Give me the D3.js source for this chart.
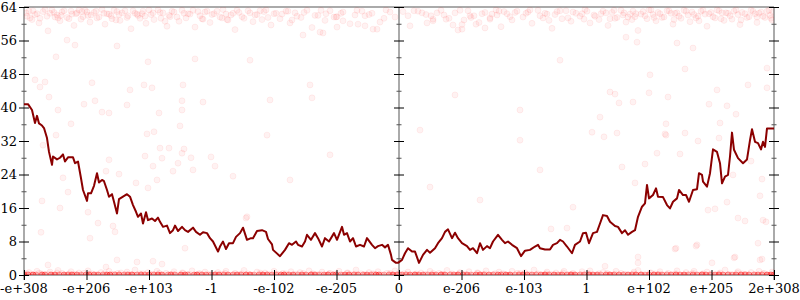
<!DOCTYPE html>
<html><head><meta charset="utf-8">
<script src="https://cdn.jsdelivr.net/npm/d3@7"></script>
<style>
html,body{margin:0;padding:0;background:#fff;}
svg{display:block;}
text{font-family:"DejaVu Serif",serif;font-size:13px;fill:#000;}
</style></head>
<body><svg id="c" width="800" height="300"></svg>
<script>
// ---- data ----
// x positions are along the 12-interval axis (0..750, 62.5 per labelled tick)
const xTickLabels = ["-e+308","-e+206","-e+103","-1","-e-102","-e-205","0","e-206","e-103","1","e+102","e+205","2e+308"];
const yTickValues = [0,8,16,24,32,40,48,56,64];
const yMinorValues = [4,12,20,28,36,44,52,60];

const lineX = [0,4,8,11,13,15,18,20,23,25,28,29,33,36,39,41,44,49,51,54,57,59,63,64,67,70,73,75,78,80,83,85,88,90,93,95,99,103,106,109,112,114,117,119,122,124,128,131,134,136,139,143,146,149,151,154,158,161,164,169,172,176,179,183,186,189,194,196,199,202,205,209,212,216,219,223,227,229,233,238,242,244,248,
249,256,261,265,268,272,274,278,281,283,287,291,294,298,301,305,310,313,318,320,323,326,329,332,336,340,343,348,351,354,358,361,364,367,368,372,374,378,381,384,388,391,395,399,403,406,411,414,418,421,424,428,431,434,438,443,446,449,453,456,459,463,466,469,474,478,481,484,488,493,497,501,506,511,514,
516,521,526,529,533,536,539,543,548,551,556,559,562,565,569,573,576,579,583,586,591,594,598,601,604,608,611,614,618,621,623,625,629,632,634,639,643,646,649,653,655,659,662,665,669,673,675,678,679,683,686,689,693,696,698,701,704,706,708,710,714,719,723,726,728,731,734,737,739,741,743,750];
const lineY = [40.8,40.8,39.4,36.3,38.0,36.2,35.7,35.1,32.7,29.4,26.3,28.3,27.6,28.0,28.8,27.1,28.1,28.1,26.7,27.1,23.1,20.3,17.7,19.5,19.5,21.3,24.3,22.1,22.7,22.4,20.3,18.7,19.3,17.5,14.7,18.1,18.7,19.3,18.7,16.7,15.1,13.9,14.7,12.3,15.0,13.1,13.5,12.9,13.7,12.7,11.5,11.8,10.0,10.7,11.8,10.5,11.5,10.7,10.3,11.3,10.3,9.6,10.2,10.0,8.8,8.0,5.6,6.8,8.0,6.2,7.6,7.6,9.1,10.0,11.3,8.4,8.8,8.8,10.5,10.7,10.3,8.6,7.3,
6.0,4.5,6.0,7.6,7.2,8.0,7.2,6.8,8.0,9.6,8.4,10.0,8.8,6.8,8.8,8.0,10.0,8.4,11.5,9.6,10.0,8.0,8.8,6.8,7.2,6.8,8.8,7.2,6.4,6.9,7.2,6.6,7.2,4.8,3.6,2.9,2.9,3.6,5.2,6.4,5.6,5.6,2.9,4.8,6.0,5.3,6.4,7.6,8.8,10.3,10.9,8.8,10.1,8.8,7.6,6.9,6.0,6.4,5.2,7.6,6.0,6.9,6.4,8.0,9.6,8.4,7.6,8.0,7.2,6.4,4.5,5.8,6.0,6.8,7.2,
6.4,6.1,6.1,7.2,7.6,8.4,8.0,6.8,5.2,7.2,8.0,10.0,10.1,7.6,10.0,10.3,12.3,14.3,14.1,12.7,11.7,11.5,10.0,10.7,9.6,10.3,10.7,13.9,16.3,17.1,21.5,18.3,19.1,20.7,18.7,18.6,16.7,15.9,17.5,18.3,20.3,19.1,19.1,17.5,20.3,20.5,24.3,23.9,22.3,21.1,24.3,30.0,29.4,26.7,21.9,23.5,23.9,28.3,34.0,29.9,27.9,26.7,27.6,32.2,34.8,31.8,31.5,30.0,31.8,30.6,35.0,35.0];

const topBand = [[2,62.6],[6,61.4],[9,63.1],[15,60.2],[19,62.9],[23,61.8],[24,58.3],[28,63.3],[33,62.1],[36,60.7],[38,62.8],[43,61.5],[47,63.0],[50,59.6],[52,62.4],[57,61.1],[61,63.2],[64,62.0],[66,60.4],[70,62.7],[75,61.6],[78,63.4],[81,59.9],[85,62.3],[88,61.2],[93,62.9],[96,60.8],[101,63.1],[104,61.9],[107,58.8],[111,62.5],[116,61.3],[119,63.0],[122,60.1],[127,62.2],[130,61.0],[134,63.3],[139,62.6],[143,59.4],[146,61.7],[150,62.8],[155,60.6],[158,63.2],[162,61.4],[166,62.3],[171,59.2],[174,62.9],[179,61.1],[183,63.0],[186,60.3],[190,62.4],[196,61.6],[199,63.4],[204,60.9],[207,62.1],[211,58.6],[215,62.7],[220,61.3],[224,63.1],[229,60.5],[233,62.2],[238,61.0],[242,63.3],[247,59.7],[252,62.5],[256,61.2],[262,63.0],[266,60.2],[271,62.6],[277,61.5],[283,63.2],[288,59.1],[294,62.0],[301,60.8],[306,63.1],[313,61.7],[319,62.8],[326,60.0],[333,63.2],[341,61.9],[348,62.5],[356,60.4],[362,63.3],[371,61.6],[379,62.9],[386,59.5],[394,63.0],[402,62.2],[409,60.7],[417,63.2],[425,61.3],[431,62.6],[438,59.8],[444,63.1],[450,61.9],[455,60.3],[461,62.7],[466,61.1],[472,63.3],[477,59.3],[483,62.4],[488,60.9],[493,63.0],[499,61.6],[504,62.8],[508,60.1],[514,63.2],[519,61.4],[523,62.3],[528,58.9],[533,62.9],[538,61.2],[542,63.1],[547,60.6],[552,62.5],[556,61.8],[561,63.4],[566,60.2],[570,62.1],[575,61.0],[579,63.0],[584,59.6],[588,62.7],[593,61.5],[597,63.2],[602,60.4],[606,62.3],[611,61.7],[614,58.4],[619,62.9],[623,61.2],[627,63.3],[632,60.7],[636,62.4],[640,61.6],[645,63.1],[649,59.9],[653,62.6],[657,61.3],[662,63.0],[666,60.5],[670,62.2],[674,61.8],[679,63.2],[683,59.4],[687,62.7],[691,61.4],[695,63.1],[700,60.8],[704,62.5],[708,61.1],[712,63.3],[716,59.8],[721,62.4],[725,61.7],[729,63.0],[733,60.3],[737,62.8],[741,61.5],[745,63.2],[748,60.9],
[5,63.0],[13,62.4],[21,63.4],[30,62.7],[40,63.1],[48,62.3],[55,63.3],[63,62.8],[72,63.0],[80,62.5],[90,63.2],[98,62.6],[109,63.1],[118,62.4],[125,63.3],[136,62.7],[148,63.0],[160,62.5],[169,63.2],[181,62.8],[193,63.0],[202,62.3],[213,63.2],[226,62.6],[236,63.1],[250,62.4],[264,63.0],[280,62.7],[297,63.2],[317,62.5],[338,63.0],[366,62.8],[390,63.1],[413,62.6],[436,63.2],[458,62.4],[475,63.0],[491,62.7],[506,63.3],[521,62.5],[536,63.1],[549,62.8],[563,63.0],[577,62.4],[590,63.2],[600,62.6],[609,63.0],[617,62.3],[625,63.3],[634,62.7],[643,63.1],[651,62.5],[660,63.2],[668,62.8],[677,63.0],[685,62.4],[693,63.3],[702,62.6],[710,63.0],[718,62.7],[727,63.2],[735,62.5],[743,63.0],[749,62.8],
[3,61.8],[11,62.2],[16,61.3],[26,62.5],[31,61.6],[37,62.0],[45,61.2],[53,62.6],[59,61.7],[67,62.1],[73,61.4],[83,62.4],[87,61.9],[95,62.2],[103,61.5],[113,62.3],[121,61.8],[129,62.6],[137,61.3],[145,62.0],[153,61.6],[164,62.4],[176,61.9],[188,62.2],[198,61.4],[209,62.5],[218,61.7],[231,62.1],[244,61.5],[258,62.3],[273,61.8],[291,62.0],[310,61.6],[345,62.2],[384,61.9],[420,62.1],[447,61.5],[468,62.3],[486,61.7],[502,62.5],[516,61.9],[531,62.2],[544,61.4],[558,62.4],[571,61.8],[582,62.6],[591,61.3],[599,62.1],[604,61.6],[612,62.4],[621,61.9],[629,62.2],[638,61.5],[647,62.5],[655,61.8],[664,62.1],[672,61.4],[681,62.3],[689,61.7],[698,62.6],[706,61.9],[714,62.2],[723,61.5],[731,62.4],[739,61.8],[746,62.0],[8,61.0],[34,61.4],[58,62.9],[92,60.9],[114,62.0],[141,60.6],[178,61.2],[203,61.0],[240,62.9],[268,60.9],[302,62.4],[360,61.3],[398,62.6],[440,60.9],[480,62.9],[525,60.8],[560,61.1],[586,61.2],[608,61.0],[630,61.5],[650,61.0],[675,60.7],[697,61.2],[717,60.9],[733,61.6],[747,61.3]];

const bottomBand = [[1,0.2],[5,0.6],[9,0.0],[13,0.9],[17,0.3],[21,0.1],[26,0.7],[30,0.0],[34,1.1],[38,0.4],[42,0.0],[47,0.8],[51,0.2],[55,0.5],[59,0.0],[64,1.0],[68,0.3],[72,0.1],[77,0.6],[81,0.0],[85,0.9],[90,0.2],[94,0.4],[98,0.0],[103,0.7],[107,0.1],[111,1.2],[116,0.3],[120,0.0],[124,0.6],[129,0.2],[133,0.9],[137,0.0],[142,0.4],[146,0.1],[150,0.8],[155,0.0],[159,0.5],[163,0.2],[168,1.0],[172,0.0],[176,0.3],[181,0.7],[185,0.1],[189,0.0],[194,0.6],[198,0.2],[202,0.9],[207,0.0],[211,0.4],[215,0.1],[220,1.1],[224,0.3],[228,0.0],[233,0.7],[237,0.2],[241,0.5],[246,0.0],[250,0.9],[254,0.1],[259,0.4],[263,0.0],[267,0.8],[272,0.2],[276,0.6],[280,0.0],[285,1.0],[289,0.3],[293,0.1],[298,0.7],[302,0.0],[306,0.4],[311,0.2],[315,0.9],[319,0.0],[324,0.5],[328,0.1],[332,1.2],[337,0.3],[341,0.0],[345,0.6],[350,0.2],[354,0.8],[358,0.0],[363,0.4],[367,0.1],[371,1.0],[376,0.0],[380,0.3],[384,0.7],[389,0.1],[393,0.0],[397,0.5],[402,0.2],[406,0.9],[410,0.0],[415,0.4],[419,0.1],[423,1.1],[428,0.3],[432,0.0],[436,0.6],[441,0.2],[445,0.8],[449,0.0],[454,0.5],[458,0.1],[462,1.0],[467,0.0],[471,0.3],[475,0.7],[480,0.2],[484,0.0],[488,0.9],[493,0.4],[497,0.1],[501,0.6],[506,0.0],[510,1.2],[514,0.3],[519,0.0],[523,0.7],[527,0.2],[532,0.5],[536,0.0],[540,0.9],[545,0.1],[549,0.4],[553,0.0],[558,0.8],[562,0.2],[566,1.0],[571,0.0],[575,0.3],[579,0.6],[584,0.1],[588,0.0],[592,0.9],[597,0.4],[601,0.2],[605,0.0],[610,0.7],[614,1.1],[618,0.1],[623,0.0],[627,0.5],[631,0.3],[636,0.8],[640,0.0],[644,0.4],[649,0.1],[653,1.0],[657,0.0],[662,0.6],[666,0.2],[670,0.9],[675,0.0],[679,0.3],[683,0.7],[688,0.1],[692,0.0],[696,0.5],[701,1.2],[705,0.2],[709,0.0],[714,0.8],[718,0.3],[722,0.1],[727,0.6],[731,0.0],[735,0.9],[740,0.4],[744,0.0],[748,0.7],
[3,0.3],[7,0.1],[15,0.4],[19,0.0],[24,0.2],[33,0.5],[37,0.1],[45,0.3],[50,0.0],[60,0.4],[66,0.2],[75,0.0],[80,0.3],[88,0.1],[97,0.5],[102,0.2],[110,0.0],[119,0.3],[127,0.1],[135,0.4],[141,0.0],[149,0.2],[158,0.5],[166,0.1],[175,0.3],[184,0.0],[192,0.2],[201,0.4],[210,0.1],[218,0.3],[227,0.0],[236,0.5],[244,0.2],[253,0.1],[262,0.3],[270,0.0],[279,0.4],[288,0.2],[297,0.1],[305,0.3],[314,0.0],[323,0.5],[331,0.2],[340,0.1],[349,0.3],[357,0.0],[366,0.4],[375,0.2],[383,0.1],[392,0.3],[401,0.0],[409,0.4],[418,0.2],[427,0.1],[435,0.3],[444,0.0],[453,0.5],[461,0.2],[470,0.1],[479,0.3],[487,0.0],[496,0.4],[505,0.2],[513,0.1],[522,0.3],[531,0.0],[539,0.5],[548,0.2],[557,0.1],[565,0.3],[574,0.0],[583,0.4],[591,0.2],[600,0.1],[609,0.3],[617,0.0],[626,0.5],[635,0.2],[643,0.1],[652,0.3],[661,0.0],[669,0.4],[678,0.2],[687,0.1],[695,0.3],[704,0.0],[713,0.5],[721,0.2],[730,0.1],[739,0.3],[746,0.0]];

// samples that sit exactly at 0: [position, number of samples]
const zeroCounts = [[0,6],[4,5],[9,7],[12,4],[18,6],[21,5],[27,7],[31,6],[35,4],[40,6],[44,5],[48,7],[53,6],[57,4],[62,5],[65,7],[70,6],[74,5],[79,4],[83,6],[86,7],[91,5],[95,6],[100,4],[104,6],[108,7],[113,5],[117,6],[121,4],[125,6],[130,5],[134,7],[138,6],[144,4],[147,6],[151,5],[157,7],[161,6],[164,4],[170,5],[173,7],[178,6],[182,5],[187,4],[191,6],[195,7],[200,5],[204,6],[209,4],[213,6],[217,5],[222,7],[226,6],[230,4],[235,5],[239,7],[243,6],[248,5],[252,4],[257,6],[260,7],[265,5],[269,6],[274,4],[278,6],[282,5],[287,7],[291,6],[295,4],[300,5],[304,7],[309,6],[312,5],[317,4],[321,6],[325,7],[330,5],[334,6],[339,4],[343,6],[347,5],[352,7],[355,6],[360,4],[365,5],[369,7],[373,6],[378,5],[382,4],[386,6],[391,7],[395,5],[399,6],[404,4],[408,6],[412,5],[417,7],[421,6],[426,4],[430,5],[434,7],[439,6],[443,5],[447,4],[452,6],[456,7],[460,5],[465,6],[469,4],[474,6],[477,5],[482,7],[486,6],[491,4],[495,5],[499,7],[503,6],[508,5],[512,4],[517,6],[521,7],[525,5],[530,6],[534,4],[538,6],[543,5],[547,7],[551,6],[556,4],[560,5],[565,7],[569,6],[573,5],[577,4],[582,6],[586,7],[590,5],[595,6],[599,4],[604,6],[608,5],[612,7],[617,6],[621,4],[625,5],[630,7],[634,6],[638,5],[643,4],[647,6],[652,7],[656,5],[660,6],[664,4],[669,6],[673,5],[678,7],[682,6],[686,4],[691,5],[695,7],[699,6],[704,5],[708,4],[712,6],[717,7],[721,5],[725,6],[730,4],[734,6],[738,5],[743,7],[747,6],[750,5]];

const sparsePoints = [[43,56.1],[51,54.9],[32,52.1],[93,54.7],[124,50.9],[171,51.6],[11,46.6],[16,44.9],[21,46.1],[25,42.5],[68,45.9],[106,44.2],[120,45.4],[128,44.7],[159,45.4],[34,39.4],[47,36.1],[60,40.8],[71,41.6],[78,38.9],[85,38.7],[103,40.6],[123,33.7],[130,34.2],[135,38.7],[158,41.6],[158,39.4],[179,41.3],[156,35.6],[32,33.4],[19,31.0],[136,30.3],[145,30.3],[160,30.1],[158,29.1],[121,28.4],[138,27.9],[167,28.0],[187,28.2],[85,27.5],[129,26.0],[154,26.7],[191,26.0],[149,24.8],[169,25.1],[82,24.8],[95,24.1],[39,23.2],[209,23.6],[133,22.7],[112,22.0],[124,20.8],[44,19.8],[18,17.7],[64,15.0],[36,16.0],[243,33.4],[222,13.6],[74,12.4],[89,11.7],[91,10.3],[17,10.2],[66,8.8],[161,6.4],[93,3.6],[113,3.1],[129,3.3],[24,2.4],[138,2.6],[82,1.9],
[586,43.7],[591,43.2],[626,47.8],[661,49.2],[669,54.2],[653,55.4],[613,55.6],[602,56.8],[743,49.4],[743,44.7],[693,44.2],[724,45.4],[644,42.5],[625,43.5],[595,41.1],[609,41.3],[685,40.8],[703,40.4],[712,38.4],[576,37.7],[642,36.1],[593,33.9],[580,33.0],[641,33.7],[661,33.9],[674,32.0],[695,32.7],[633,29.1],[656,28.9],[727,27.2],[621,26.5],[598,25.8],[738,22.9],[611,22.0],[709,23.9],[736,18.9],[568,34.1],[642,33.4],[696,36.3],[549,16.2],[527,11.0],[543,11.2],[684,15.5],[691,15.8],[703,17.4],[714,13.6],[739,13.1],[652,6.4],[672,6.9],[734,7.6],[614,4.3],[614,2.9],[581,2.1],[710,4.1],[738,3.8],[651,6.2],[673,7.2],[688,2.9],[721,12.9],[742,12.7],[736,3.6],[711,4.3],
[223,13.9],[406,21.0],[279,57.3],[288,42.3],[312,61.6],[319,60.7],[331,62.1],[313,59.2],[334,59.9],[341,59.5],[349,58.7],[353,58.7],[296,58.0],[299,57.8],[403,60.2],[409,61.1],[407,61.9],[422,61.1],[429,59.7],[434,58.5],[438,58.7],[446,61.9],[452,59.9],[461,59.0],[466,61.4],[473,62.1],[286,45.4],[431,43.0],[496,39.4],[306,28.7],[516,25.1],[226,51.3],[246,41.8],[396,34.6],[456,17.9],[536,51.3],[266,22.7],[496,32.2]];

// ---- chart ----
const W = 800, H = 300;
const m = {top: 7, right: 26, bottom: 25, left: 24};
const svg = d3.select("#c");
const x = d3.scaleLinear().domain([0, 750]).range([m.left, W - m.right]);
const y = d3.scaleLinear().domain([0, 64]).range([H - m.bottom, m.top]);
const xTickPos = xTickLabels.map((d, i) => i * 62.5);
const vAxes = [0, 375, 750];

svg.append("defs").append("clipPath").attr("id", "clip")
  .append("rect").attr("x", x(0)).attr("y", y(64)).attr("width", x(750) - x(0)).attr("height", y(0) - y(64));

// frame lines (gray)
const frame = svg.append("g").attr("stroke", "#aaa").attr("stroke-width", 2);
frame.append("line").attr("x1", x(0)).attr("x2", x(750)).attr("y1", y(64)).attr("y2", y(64));
frame.append("line").attr("x1", x(0)).attr("x2", x(750)).attr("y1", y(0)).attr("y2", y(0));
frame.selectAll(".v").data(vAxes).join("line")
  .attr("x1", d => x(d)).attr("x2", d => x(d)).attr("y1", y(64)).attr("y2", y(0) + 5);

// points
const zeroPts = zeroCounts.flatMap(([p, n]) => Array.from({length: n}, () => [p, 0]));
const allPts = topBand.concat(bottomBand, zeroPts, sparsePoints);
svg.append("g").attr("clip-path", "url(#clip)")
  .selectAll("circle").data(allPts).join("circle")
  .attr("cx", d => x(d[0])).attr("cy", d => y(d[1])).attr("r", 3)
  .attr("fill", "red").attr("fill-opacity", 0.05)
  .attr("stroke", "red").attr("stroke-opacity", 0.06);

// line
svg.append("path")
  .datum(lineX.map((d, i) => [d, lineY[i]]))
  .attr("fill", "none").attr("stroke", "#8b0000").attr("stroke-width", 2)
  .attr("stroke-linejoin", "round")
  .attr("d", d3.line().x(d => x(d[0])).y(d => y(d[1])));

// y ticks on each vertical axis
const tk = svg.append("g");
vAxes.forEach(a => {
  tk.selectAll(null).data(yTickValues).join("line")
    .attr("x1", x(a) - 5).attr("x2", x(a) + 5)
    .attr("y1", d => y(d) + 0.5).attr("y2", d => y(d) + 0.5)
    .attr("stroke", "#000");
  tk.selectAll(null).data(yMinorValues).join("line")
    .attr("x1", x(a) - 2.5).attr("x2", x(a) + 2.5)
    .attr("y1", d => y(d) + 0.5).attr("y2", d => y(d) + 0.5)
    .attr("stroke", "#555");
});
// x ticks
tk.selectAll(null).data(xTickPos).join("line")
  .attr("x1", d => x(d) + 0.5).attr("x2", d => x(d) + 0.5)
  .attr("y1", y(0) - 5).attr("y2", y(0) + 5)
  .attr("stroke", "#000");

// labels
svg.append("g").selectAll("text").data(yTickValues).join("text")
  .attr("x", x(0) - 7).attr("y", d => y(d)).attr("dy", "0.35em")
  .attr("text-anchor", "end").text(d => d);
svg.append("g").selectAll("text").data(xTickLabels).join("text")
  .attr("x", (d, i) => x(xTickPos[i])).attr("y", y(0) + 18)
  .attr("text-anchor", "middle").text(d => d);
</script></body></html>
